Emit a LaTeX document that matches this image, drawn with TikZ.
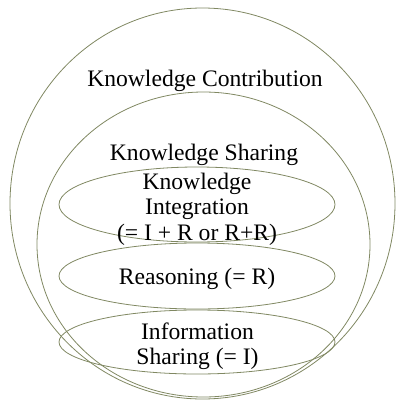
\documentclass[tikz,border=0pt]{standalone}
\usepackage{fontspec}
\setmainfont{Liberation Serif}
\begin{document}
\begin{tikzpicture}[x=1bp,y=-1bp,
  ring/.style={draw=ringcol,line width=0.8bp},
  lbl/.style={font=\fontsize{23.7}{25.5}\selectfont,align=center,inner sep=0pt,text=black}]
\definecolor{ringcol}{RGB}{128,136,98}
\useasboundingbox (0,0) rectangle (396,402);
\draw[ring] (202.5,203.5) ellipse [x radius=192.5, y radius=195.5];
\draw[ring] (203.5,244.5) ellipse [x radius=166.5, y radius=152.5];
\draw[ring] (197,204.5) ellipse [x radius=138, y radius=37.5];
\draw[ring] (197,276) ellipse [x radius=138, y radius=33];
\draw[ring] (197,342) ellipse [x radius=138, y radius=32];
\node[lbl] (kc) at (205,80.5) {Knowledge Contribution};
\node[lbl] (ks) at (204,155) {Knowledge Sharing};
\node[lbl] (ki) at (197,209) {Knowledge\\Integration\\(= I + R or R+R)};
\node[lbl] (re) at (197,279) {Reasoning (= R)};
\node[lbl] (is) at (197.5,346) {Information\\Sharing (= I)};
\end{tikzpicture}
\end{document}
